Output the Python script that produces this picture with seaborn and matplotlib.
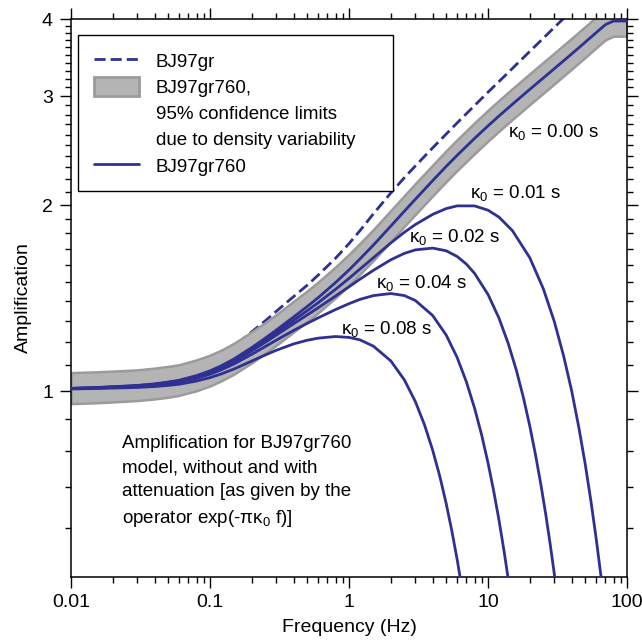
import numpy as np
import pandas as pd
import seaborn as sns
import matplotlib.pyplot as plt
from matplotlib.lines import Line2D
from matplotlib.patches import Patch
from matplotlib.ticker import FixedLocator, FixedFormatter, NullFormatter

# BJ97gr760 amplification (kappa0 = 0) and its 95% limits
freq_base = [0.01, 0.015, 0.02, 0.03, 0.04, 0.05, 0.06, 0.08, 0.1, 0.12, 0.15, 0.2, 0.25,
             0.3, 0.4, 0.5, 0.6, 0.8, 1.0, 1.2, 1.5, 2.0, 2.5, 3.0, 4.0, 5.0, 6.0, 8.0, 10,
             12, 15, 20, 25, 30, 40, 50, 60, 70, 80, 100]
amp_760 = [1.010, 1.013, 1.016, 1.021, 1.027, 1.034, 1.041, 1.059, 1.078, 1.098, 1.128, 1.176,
           1.218, 1.255, 1.318, 1.370, 1.416, 1.498, 1.570, 1.636, 1.723, 1.849, 1.954, 2.043,
           2.190, 2.309, 2.407, 2.563, 2.686, 2.787, 2.912, 3.078, 3.211, 3.324, 3.512, 3.668,
           3.802, 3.917, 3.970, 3.970]
amp_760_hi = [1.071, 1.074, 1.077, 1.082, 1.089, 1.096, 1.103, 1.123, 1.143, 1.164, 1.196,
              1.247, 1.291, 1.330, 1.397, 1.452, 1.501, 1.588, 1.664, 1.734, 1.826, 1.960,
              2.071, 2.166, 2.321, 2.448, 2.551, 2.717, 2.847, 2.954, 3.087, 3.263, 3.404,
              3.523, 3.723, 3.888, 4.030, 4.152, 4.208, 4.208]
amp_760_lo = [0.954, 0.957, 0.960, 0.965, 0.971, 0.977, 0.984, 1.001, 1.019, 1.038, 1.066,
              1.111, 1.151, 1.186, 1.246, 1.295, 1.338, 1.416, 1.484, 1.546, 1.628, 1.747,
              1.847, 1.931, 2.070, 2.182, 2.275, 2.422, 2.538, 2.634, 2.752, 2.909, 3.034,
              3.141, 3.319, 3.466, 3.593, 3.702, 3.752, 3.752]

# BJ97gr (dashed)
freq_gr = [0.01, 0.02, 0.03, 0.05, 0.08, 0.1, 0.12, 0.15, 0.2, 0.25, 0.3, 0.4, 0.5, 0.6,
           0.8, 1.0, 1.2, 1.5, 2.0, 2.5, 3.0, 4.0, 5.0, 6.0, 8.0, 10, 12, 15, 20, 25, 30,
           35, 40]
amp_gr = [1.010, 1.016, 1.024, 1.042, 1.072, 1.102, 1.132, 1.183, 1.247, 1.299, 1.346, 1.422,
          1.483, 1.540, 1.640, 1.732, 1.818, 1.936, 2.092, 2.214, 2.313, 2.475, 2.605, 2.716,
          2.897, 3.045, 3.169, 3.328, 3.546, 3.724, 3.876, 4.010, 4.129]

# attenuated curves, one per kappa0
freq_k01 = [0.01, 0.015, 0.02, 0.03, 0.04, 0.05, 0.06, 0.08, 0.1, 0.12, 0.15, 0.2, 0.25, 0.3,
            0.4, 0.5, 0.6, 0.8, 1.0, 1.2, 1.5, 2.0, 2.5, 3.0, 4.0, 5.0, 6.0, 8.0, 10, 12, 15,
            20, 25, 30, 35, 40, 45, 50, 55, 60, 65, 70]
amp_k01 = [1.0097, 1.0125, 1.0154, 1.0200, 1.0257, 1.0324, 1.0390, 1.0563, 1.0746, 1.0939,
           1.1227, 1.1686, 1.2085, 1.2432, 1.3015, 1.3487, 1.3896, 1.4608, 1.5214, 1.5755,
           1.6437, 1.7364, 1.8065, 1.8593, 1.9314, 1.9734, 1.9935, 1.9933, 1.9617, 1.9115,
           1.8172, 1.6424, 1.4639, 1.2951, 1.1394, 1.0004, 0.8735, 0.7625, 0.6638, 0.5771,
           0.5013, 0.4344]
freq_k02 = [0.01, 0.015, 0.02, 0.03, 0.04, 0.05, 0.06, 0.08, 0.1, 0.12, 0.15, 0.2, 0.25, 0.3,
            0.4, 0.5, 0.6, 0.8, 1.0, 1.2, 1.5, 2.0, 2.5, 3.0, 4.0, 5.0, 6.0, 7.0, 8.0, 10, 12,
            14, 16, 18, 20, 22, 24, 26, 28, 30, 32]
amp_k02 = [1.0094, 1.0120, 1.0147, 1.0191, 1.0244, 1.0308, 1.0371, 1.0537, 1.0713, 1.0898,
           1.1174, 1.1613, 1.1990, 1.2316, 1.2853, 1.3276, 1.3636, 1.4246, 1.4744, 1.5172,
           1.5681, 1.6307, 1.6700, 1.6920, 1.7032, 1.6864, 1.6509, 1.6041, 1.5505, 1.4332,
           1.3117, 1.1926, 1.0802, 0.9744, 0.8768, 0.7872, 0.7059, 0.6324, 0.5657, 0.5056,
           0.4514]
freq_k04 = [0.01, 0.015, 0.02, 0.03, 0.04, 0.05, 0.06, 0.08, 0.1, 0.12, 0.15, 0.2, 0.25, 0.3,
            0.4, 0.5, 0.6, 0.8, 1.0, 1.2, 1.5, 2.0, 2.5, 3.0, 4.0, 5.0, 6.0, 7.0, 8.0, 9.0,
            10, 11, 12, 13, 14, 15]
amp_k04 = [1.0087, 1.0111, 1.0134, 1.0172, 1.0219, 1.0275, 1.0332, 1.0484, 1.0645, 1.0816,
           1.1069, 1.1468, 1.1803, 1.2086, 1.2534, 1.2866, 1.3132, 1.3546, 1.3846, 1.4071,
           1.4270, 1.4380, 1.4271, 1.4012, 1.3249, 1.2321, 1.1329, 1.0337, 0.9385, 0.8491,
           0.7652, 0.6880, 0.6177, 0.5536, 0.4954, 0.4429]
freq_k08 = [0.01, 0.015, 0.02, 0.03, 0.04, 0.05, 0.06, 0.08, 0.1, 0.12, 0.15, 0.2, 0.25, 0.3,
            0.4, 0.5, 0.6, 0.8, 1.0, 1.2, 1.5, 2.0, 2.5, 3.0, 3.5, 4.0, 4.5, 5.0, 5.5, 6.0,
            6.5, 7.0]
amp_k08 = [1.0075, 1.0092, 1.0109, 1.0133, 1.0167, 1.0211, 1.0254, 1.0379, 1.0512, 1.0654,
           1.0863, 1.1183, 1.1438, 1.1639, 1.1919, 1.2081, 1.2177, 1.2251, 1.2210, 1.2100,
           1.1817, 1.1186, 1.0426, 0.9615, 0.8805, 0.8019, 0.7277, 0.6578, 0.5930, 0.5335,
           0.4789, 0.4293]

kappas = ['0.01', '0.02', '0.04', '0.08']
kappa_labels = ['0.00', '0.01', '0.02', '0.04', '0.08']

blue = '#2e3192'
band_face = '#b4b4b4'
band_edge = '#9b9b9b'

sns.set_style('ticks')
plt.rcParams['font.family'] = ['Liberation Sans', 'DejaVu Sans']
plt.rcParams['mathtext.fontset'] = 'custom'
plt.rcParams['mathtext.rm'] = 'Liberation Sans'
plt.rcParams['mathtext.it'] = 'Liberation Sans:italic'
for key in ['text.color', 'axes.labelcolor', 'xtick.color', 'ytick.color', 'axes.edgecolor']:
    plt.rcParams[key] = 'black'

fig = plt.figure(figsize=(6.42, 6.41), dpi=100)
ax = fig.add_axes([71 / 642, 1 - 577 / 641, 556 / 642, 558 / 641])

df_gr = pd.DataFrame({'f': freq_gr, 'amp': amp_gr})
sns.lineplot(data=df_gr, x='f', y='amp', ax=ax, color=blue, lw=2, zorder=1)
ax.lines[-1].set_dashes((4, 1.8))

ax.fill_between(freq_base, amp_760_lo, amp_760_hi, facecolor=band_face, edgecolor=band_edge,
                lw=1.8, zorder=2)

kdf = pd.concat([
    pd.DataFrame({'f': fr, 'amp': am, 'kappa': k})
    for fr, am, k in zip([freq_k01, freq_k02, freq_k04, freq_k08],
                         [amp_k01, amp_k02, amp_k04, amp_k08], kappas)
])
sns.lineplot(data=kdf, x='f', y='amp', hue='kappa', palette={k: blue for k in kappas},
             lw=2, ax=ax, legend=False, zorder=3)

df_760 = pd.DataFrame({'f': freq_base, 'amp': amp_760})
sns.lineplot(data=df_760, x='f', y='amp', ax=ax, color=blue, lw=2, zorder=4)

ax.set_xscale('log')
ax.set_yscale('log')
ax.set_xlim(0.01, 100)
ax.set_ylim(0.5, 4)

ax.xaxis.set_major_locator(FixedLocator([0.01, 0.1, 1, 10, 100]))
ax.xaxis.set_major_formatter(FixedFormatter(['0.01', '0.1', '1', '10', '100']))
xminor = [m * d for d in [0.01, 0.1, 1, 10] for m in range(2, 10)]
ax.xaxis.set_minor_locator(FixedLocator(xminor))
ax.xaxis.set_minor_formatter(NullFormatter())

ax.yaxis.set_major_locator(FixedLocator([1, 2, 3, 4]))
ax.yaxis.set_major_formatter(FixedFormatter(['1', '2', '3', '4']))
yminor = [0.6, 0.7, 0.8, 0.9] + [round(1 + 0.1 * i, 1) for i in range(1, 30) if i % 10]
ax.yaxis.set_minor_locator(FixedLocator(yminor))
ax.yaxis.set_minor_formatter(NullFormatter())

ax.tick_params(which='both', direction='out', top=True, right=True, width=1, labelsize=14,
               color='black', labelcolor='black')
ax.tick_params(which='major', length=8)
ax.tick_params(which='minor', length=4.5)
ax.tick_params(axis='x', pad=4)
ax.tick_params(axis='y', pad=5)
for sp in ax.spines.values():
    sp.set_visible(True)
    sp.set_linewidth(1.1)
    sp.set_color('black')

ax.set_xlabel('Frequency (Hz)', fontsize=14, labelpad=6)
ax.set_ylabel('Amplification', fontsize=14, labelpad=7)

# kappa labels
label_pos = [(13.9, 2.63), (7.4, 2.09), (2.7, 1.774), (1.56, 1.498), (0.875, 1.261)]
for (x, y), k in zip(label_pos, kappa_labels):
    ax.text(x, y, r'$\mathrm{\kappa}_0$ = ' + k + ' s', fontsize=13.5, va='center', ha='left',
            zorder=5)

ax.text(0.092, 0.254,
        'Amplification for BJ97gr760\nmodel, without and with\nattenuation [as given by the\n'
        r'operator exp(-π$\mathrm{\kappa}_0$ f)]',
        transform=ax.transAxes, fontsize=13.5, va='top', ha='left', linespacing=1.53)

blank = Line2D([], [], color='none')
handles = [Line2D([], [], color=blue, lw=2, dashes=(4, 1.8)),
           Patch(facecolor=band_face, edgecolor=band_edge, lw=2),
           blank, blank,
           Line2D([], [], color=blue, lw=2)]
labels = ['BJ97gr', 'BJ97gr760,', '95% confidence limits', 'due to density variability',
          'BJ97gr760']
leg = ax.legend(handles, labels, loc='upper left',
                bbox_to_anchor=(0.0126, 0.0, 315 / 556, 0.971), mode='expand',
                borderaxespad=0, fontsize=13.5, frameon=True, fancybox=False,
                framealpha=1, edgecolor='black', handlelength=2.4, handleheight=1.2,
                handletextpad=0.9, borderpad=0.85, labelspacing=0.33)
leg.get_frame().set_linewidth(1.0)

fig.savefig('out.png', dpi=100)
